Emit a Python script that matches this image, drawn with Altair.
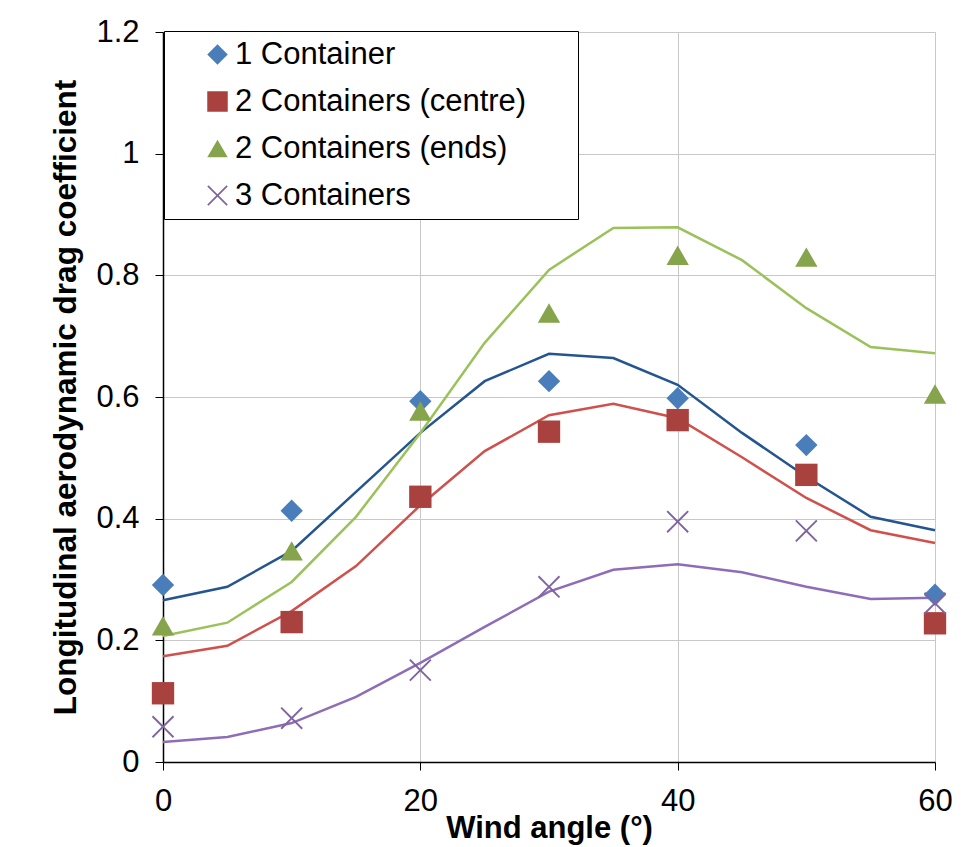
import altair as alt
import pandas as pd

series = ["1 Container", "2 Containers (centre)", "2 Containers (ends)", "3 Containers"]

# measured points (markers)
marker_angles = [0, 10, 20, 30, 40, 50, 60]
one_container = [0.291, 0.413, 0.593, 0.626, 0.598, 0.521, 0.275]
two_centre = [0.113, 0.230, 0.436, 0.543, 0.562, 0.472, 0.228]
two_ends = [0.224, 0.347, 0.577, 0.738, 0.833, 0.830, 0.605]
three_containers = [0.058, 0.072, 0.151, 0.288, 0.395, 0.380, 0.261]

# model curves (lines)
line_angles = [0, 5, 10, 15, 20, 25, 30, 35, 40, 45, 50, 55, 60]
one_line = [0.266, 0.288, 0.347, 0.444, 0.541, 0.626, 0.671, 0.664, 0.620, 0.541, 0.469, 0.403, 0.381]
centre_line = [0.174, 0.191, 0.248, 0.322, 0.422, 0.511, 0.570, 0.589, 0.565, 0.501, 0.434, 0.381, 0.360]
ends_line = [0.207, 0.229, 0.296, 0.403, 0.541, 0.689, 0.809, 0.878, 0.879, 0.825, 0.746, 0.682, 0.672]
three_line = [0.033, 0.041, 0.064, 0.107, 0.163, 0.222, 0.280, 0.316, 0.325, 0.312, 0.288, 0.268, 0.270]

marker_colors = ["#4A7EBB", "#A9413F", "#86A44B", "#8064A2"]
line_colors = ["#24558F", "#D0504C", "#9BC25A", "#8E6DB8"]
x_shape = ("M-1,-0.88L-0.88,-1L0,-0.12L0.88,-1L1,-0.88L0.12,0L1,0.88L0.88,1"
           "L0,0.12L-0.88,1L-1,0.88L-0.12,0Z")
shapes = ["diamond", "square", "triangle-up", x_shape]

pts_rows = []
for name, vals in zip(series, [one_container, two_centre, two_ends, three_containers]):
    for a, v in zip(marker_angles, vals):
        pts_rows.append({"series": name, "angle": a, "cd": v})
pts = pd.DataFrame(pts_rows)

line_rows = []
for name, vals in zip(series, [one_line, centre_line, ends_line, three_line]):
    for a, v in zip(line_angles, vals):
        line_rows.append({"curve": name, "angle": a, "cd": v})
lines_df = pd.DataFrame(line_rows)

FONT = "Liberation Sans"

x_enc = alt.X(
    "angle:Q",
    scale=alt.Scale(domain=[0, 60], nice=False),
    axis=alt.Axis(
        values=[0, 20, 40, 60], title="Wind angle (°)", labelFlush=False,
        labelFontSize=31, labelFont=FONT, labelColor="black", labelPadding=16,
        tickSize=8, tickColor="black", domainColor="black", domainWidth=1.5,
        gridColor="#C8C8C8", gridWidth=1,
        titleFontSize=31, titleFont=FONT, titleFontWeight="bold", titleColor="black",
        titleY=75, titleBaseline="alphabetic",
    ),
)
y_enc = alt.Y(
    "cd:Q",
    scale=alt.Scale(domain=[0, 1.2], nice=False),
    axis=alt.Axis(
        values=[0, 0.2, 0.4, 0.6, 0.8, 1, 1.2], format="~g",
        title="Longitudinal aerodynamic drag coefficient",
        labelFontSize=31, labelFont=FONT, labelColor="black", labelPadding=16,
        tickSize=8, tickColor="black", domainColor="black", domainWidth=1.5,
        gridColor="#C8C8C8", gridWidth=1,
        titleFontSize=31.5, titleFont=FONT, titleFontWeight="bold", titleColor="black",
        titleX=-97, titleY=365, titleAngle=-90, titleBaseline="middle", titleAlign="center",
    ),
)

legend = alt.Legend(
    orient="none", legendX=1, legendY=-1,
    title=" ", titleOrient="right", titlePadding=44, titleFontSize=10,
    fillColor="white", strokeColor="black", padding=8,
    symbolOffset=30, symbolSize=420, symbolStrokeWidth=0,
    labelFontSize=31, labelFont=FONT, labelColor="black", labelOffset=2,
    rowPadding=15, labelLimit=600,
)

# line colours: domain taken from data (sorted ascending, same order as `series`)
lines = alt.Chart(lines_df).mark_line(strokeWidth=2.5).encode(
    x=x_enc, y=y_enc,
    stroke=alt.Stroke("curve:N", scale=alt.Scale(range=line_colors), legend=None),
    detail="curve:N",
)

points = alt.Chart(pts).mark_point(filled=True, size=500, opacity=1).encode(
    x=x_enc, y=y_enc,
    color=alt.Color("series:N", scale=alt.Scale(domain=series, range=marker_colors), legend=legend),
    shape=alt.Shape("series:N", scale=alt.Scale(domain=series, range=shapes), legend=legend),
)

chart = alt.layer(lines, points).properties(
    width=772, height=730,
    padding={"left": 163, "top": 32, "right": 33, "bottom": 85},
    autosize=alt.AutoSizeParams(type="none"),
).configure_view(stroke=None).configure(background="white")

chart.save("out.html", embed_options={"renderer": "svg", "actions": False})
